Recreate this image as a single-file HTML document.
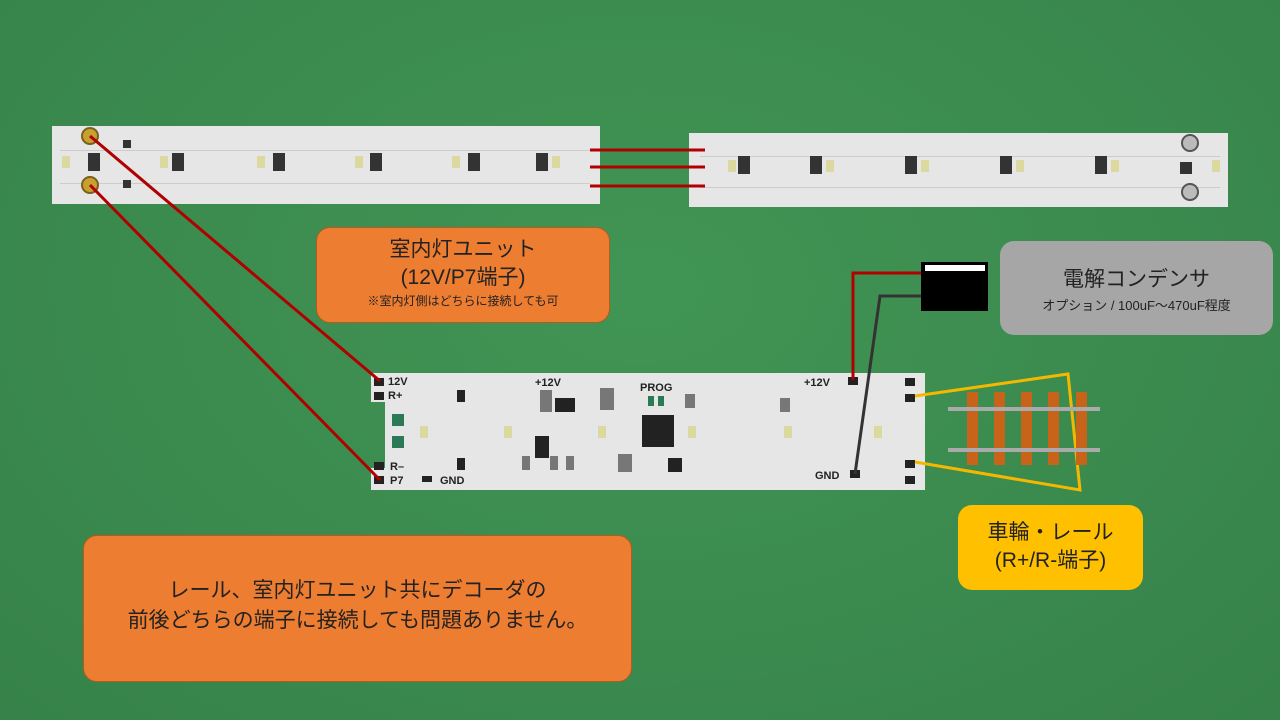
<!DOCTYPE html>
<html><head><meta charset="utf-8"><style>
body{margin:0;width:1280px;height:720px;overflow:hidden;background:#3b8c4d;font-family:"Liberation Sans","Noto Sans CJK JP",sans-serif;}
.abs{position:absolute;}
.box{position:absolute;border-radius:14px;text-align:center;color:#222;}
</style></head><body>
<div class="abs" style="left:0;top:0;width:1280px;height:720px;background:radial-gradient(ellipse at 50% 40%,#419554,#36824a);"></div>

<!-- left LED strip -->
<div class="abs" style="left:52px;top:126px;width:548px;height:78px;background:#e6e6e6;"></div>
<div class="abs" style="left:60px;top:150px;width:530px;height:32px;border-top:1px solid #ccc;border-bottom:1px solid #ccc;"></div>
<!-- right LED strip -->
<div class="abs" style="left:689px;top:133px;width:539px;height:74px;background:#e6e6e6;"></div>
<div class="abs" style="left:700px;top:156px;width:520px;height:30px;border-top:1px solid #ccc;border-bottom:1px solid #ccc;"></div>

<svg class="abs" style="left:0;top:0" width="1280" height="720">
 <g fill="#333">
  <rect x="172" y="153" width="12" height="18"/><rect x="273" y="153" width="12" height="18"/><rect x="370" y="153" width="12" height="18"/><rect x="468" y="153" width="12" height="18"/><rect x="536" y="153" width="12" height="18"/>
  <rect x="88" y="153" width="12" height="18"/><rect x="123" y="140" width="8" height="8"/><rect x="123" y="180" width="8" height="8"/>
  <rect x="738" y="156" width="12" height="18"/><rect x="810" y="156" width="12" height="18"/><rect x="905" y="156" width="12" height="18"/><rect x="1000" y="156" width="12" height="18"/><rect x="1095" y="156" width="12" height="18"/><rect x="1180" y="162" width="12" height="12"/>
 </g>
 <g fill="#dcd9a0">
  <rect x="160" y="156" width="8" height="12"/><rect x="257" y="156" width="8" height="12"/><rect x="355" y="156" width="8" height="12"/><rect x="452" y="156" width="8" height="12"/><rect x="552" y="156" width="8" height="12"/><rect x="62" y="156" width="8" height="12"/>
  <rect x="728" y="160" width="8" height="12"/><rect x="826" y="160" width="8" height="12"/><rect x="921" y="160" width="8" height="12"/><rect x="1016" y="160" width="8" height="12"/><rect x="1111" y="160" width="8" height="12"/><rect x="1212" y="160" width="8" height="12"/>
 </g>
 <circle cx="90" cy="136" r="8" fill="#c8a030" stroke="#7a6020" stroke-width="2"/>
 <circle cx="90" cy="185" r="8" fill="#c8a030" stroke="#7a6020" stroke-width="2"/>
 <circle cx="1190" cy="143" r="8" fill="#bbb" stroke="#555" stroke-width="2"/>
 <circle cx="1190" cy="192" r="8" fill="#bbb" stroke="#555" stroke-width="2"/>
 <!-- decoder -->
 <path d="M371 373 H925 V490 H371 V468 H385 V402 H371 Z" fill="#e6e6e6"/>
 <g fill="#222">
  <rect x="374" y="378" width="10" height="8"/><rect x="374" y="476" width="10" height="8"/><rect x="374" y="462" width="10" height="8"/><rect x="374" y="392" width="10" height="8"/>
  <rect x="848" y="377" width="10" height="8"/><rect x="850" y="470" width="10" height="8"/>
  <rect x="905" y="378" width="10" height="8"/><rect x="905" y="394" width="10" height="8"/><rect x="905" y="460" width="10" height="8"/><rect x="905" y="476" width="10" height="8"/>
  <rect x="642" y="415" width="32" height="32"/><rect x="555" y="398" width="20" height="14"/><rect x="535" y="436" width="14" height="22"/><rect x="668" y="458" width="14" height="14"/>
  <rect x="457" y="390" width="8" height="12"/><rect x="457" y="458" width="8" height="12"/><rect x="422" y="476" width="10" height="6"/>
 </g>
 <g fill="#2a7a55"><rect x="392" y="414" width="12" height="12"/><rect x="392" y="436" width="12" height="12"/><rect x="648" y="396" width="6" height="10"/><rect x="658" y="396" width="6" height="10"/></g>
 <g fill="#dcd9a0"><rect x="504" y="426" width="8" height="12"/><rect x="598" y="426" width="8" height="12"/><rect x="688" y="426" width="8" height="12"/><rect x="784" y="426" width="8" height="12"/><rect x="874" y="426" width="8" height="12"/><rect x="420" y="426" width="8" height="12"/></g>
 <g fill="#777"><rect x="522" y="456" width="8" height="14"/><rect x="550" y="456" width="8" height="14"/><rect x="566" y="456" width="8" height="14"/><rect x="618" y="454" width="14" height="18"/><rect x="540" y="390" width="12" height="22"/><rect x="600" y="388" width="14" height="22"/><rect x="780" y="398" width="10" height="14"/><rect x="685" y="394" width="10" height="14"/></g>
 <g font-size="11" font-weight="bold" fill="#222" font-family="Liberation Sans">
  <text x="388" y="385">12V</text><text x="388" y="399">R+</text><text x="390" y="470">R–</text><text x="390" y="484">P7</text><text x="440" y="484">GND</text>
  <text x="535" y="386">+12V</text><text x="640" y="391">PROG</text><text x="804" y="386">+12V</text><text x="815" y="479">GND</text>
 </g>
 <!-- wires -->
 <g stroke="#b00000" stroke-width="3" fill="none">
  <line x1="90" y1="136" x2="380" y2="381"/>
  <line x1="90" y1="185" x2="380" y2="480"/>
  <line x1="590" y1="150" x2="705" y2="150"/>
  <line x1="590" y1="167" x2="705" y2="167"/>
  <line x1="590" y1="186" x2="705" y2="186"/>
  <polyline points="922,273 853,273 853,380"/>
 </g>
 <polyline points="922,296 880,296 855,474" stroke="#333" stroke-width="3" fill="none"/>
 <!-- capacitor -->
 <rect x="921" y="262" width="67" height="49" fill="#000"/>
 <rect x="925" y="265" width="60" height="6" fill="#fff"/>
 <!-- track -->
 <polyline points="915,396 1068,374 1080,490 915,462" stroke="#f5b800" stroke-width="3" fill="none"/>
 <g fill="#c8641a"><rect x="967" y="392" width="11" height="73"/><rect x="994" y="392" width="11" height="73"/><rect x="1021" y="392" width="11" height="73"/><rect x="1048" y="392" width="11" height="73"/><rect x="1076" y="392" width="11" height="73"/></g>
 <rect x="948" y="407" width="152" height="4" fill="#aaa"/>
 <rect x="948" y="448" width="152" height="4" fill="#aaa"/>
</svg>

<div class="box" style="left:316px;top:227px;width:292px;height:94px;background:#ed7d31;border:1px solid #b85a1c;">
 <div style="font-size:21px;margin-top:8px;line-height:28px;">室内灯ユニット<br>(12V/P7端子)</div>
 <div style="font-size:12px;">※室内灯側はどちらに接続しても可</div>
</div>
<div class="box" style="left:1000px;top:241px;width:273px;height:94px;background:#a6a6a6;">
 <div style="font-size:21px;margin-top:22px;">電解コンデンサ</div>
 <div style="font-size:13px;margin-top:2px;">オプション / 100uF～470uF程度</div>
</div>
<div class="box" style="left:958px;top:505px;width:185px;height:85px;background:#ffc000;">
 <div style="font-size:21px;margin-top:14px;line-height:28px;">車輪・レール<br>(R+/R-端子)</div>
</div>
<div class="box" style="left:83px;top:535px;width:547px;height:145px;background:#ed7d31;border:1px solid #b85a1c;">
 <div style="font-size:21px;margin-top:40px;line-height:30px;">レール、室内灯ユニット共にデコーダの<br>前後どちらの端子に接続しても問題ありません。</div>
</div>
</body></html>
